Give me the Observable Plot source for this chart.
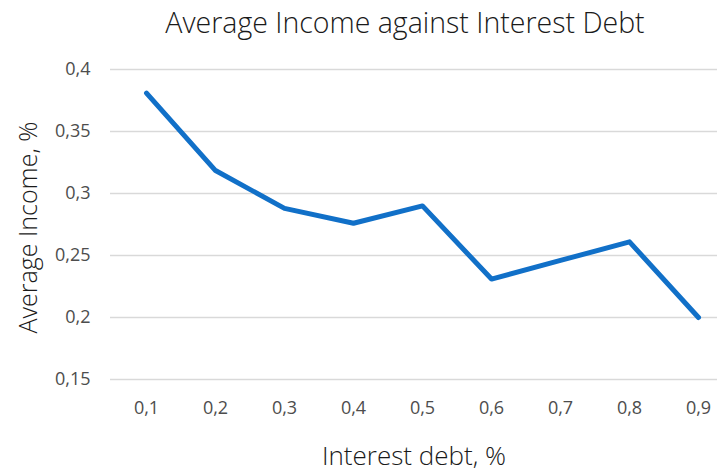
<!DOCTYPE html>
<html>
<head>
<meta charset="utf-8">
<script src="https://cdn.jsdelivr.net/npm/d3@7"></script>
<script src="https://cdn.jsdelivr.net/npm/@observablehq/plot@0.6"></script>
<style>
  html, body { margin: 0; padding: 0; background: #fff; overflow: hidden; }
  #title { height: 45px; line-height: 44px; text-align: center; font-family: "Open Sans", sans-serif; font-weight: 300; font-size: 28.5px; color: #1a1a1a; padding-left: 93px; box-sizing: border-box; width: 717px; white-space: nowrap; }
</style>
</head>
<body>
<div id="title">Average Income against Interest Debt</div>
<div id="chart"></div>
<script>
const categories = ["0,1", "0,2", "0,3", "0,4", "0,5", "0,6", "0,7", "0,8", "0,9"];
const income = [0.381, 0.3185, 0.288, 0.276, 0.290, 0.231, 0.246, 0.261, 0.200];
const yTicks = [0.15, 0.2, 0.25, 0.3, 0.35, 0.4];
const yTickLabels = ["0,15", "0,2", "0,25", "0,3", "0,35", "0,4"];

const data = categories.map((c, i) => ({cat: c, v: income[i]}));
const font = "'Open Sans', sans-serif";

const chart = Plot.plot({
  width: 717,
  height: 427,
  marginLeft: 110,
  marginRight: 0,
  marginTop: 24,
  marginBottom: 93,
  style: {fontFamily: font, background: "#fff"},
  x: {type: "point", domain: categories, range: [144.5, 699], padding: 0},
  y: {domain: [0.15, 0.4]},
  marks: [
    Plot.ruleY(yTicks, {stroke: "#d9d9d9", strokeWidth: 1.5}),
    Plot.axisY({ticks: yTicks, tickSize: 0, tickPadding: 20, label: null,
      tickFormat: d => yTickLabels[yTicks.indexOf(d)],
      fontSize: 18, fill: "#4d4d4d"}),
    Plot.axisX({tickSize: 0, tickPadding: 22, label: null, fontSize: 18, fill: "#4d4d4d"}),
    Plot.line(data, {x: "cat", y: "v", stroke: "#1170c8", strokeWidth: 5, strokeLinejoin: "round", strokeLinecap: "round"}),
    Plot.text(["Average Income, %"], {frameAnchor: "left", textAnchor: "middle", dx: -82, dy: 3, rotate: -90, fontSize: 25, fill: "#1a1a1a", fontWeight: 300}),
    Plot.text(["Interest debt, %"], {frameAnchor: "bottom", dy: 85, fontSize: 26, fill: "#1a1a1a", fontWeight: 300})
  ]
});
document.getElementById("chart").appendChild(chart);
</script>
</body>
</html>
